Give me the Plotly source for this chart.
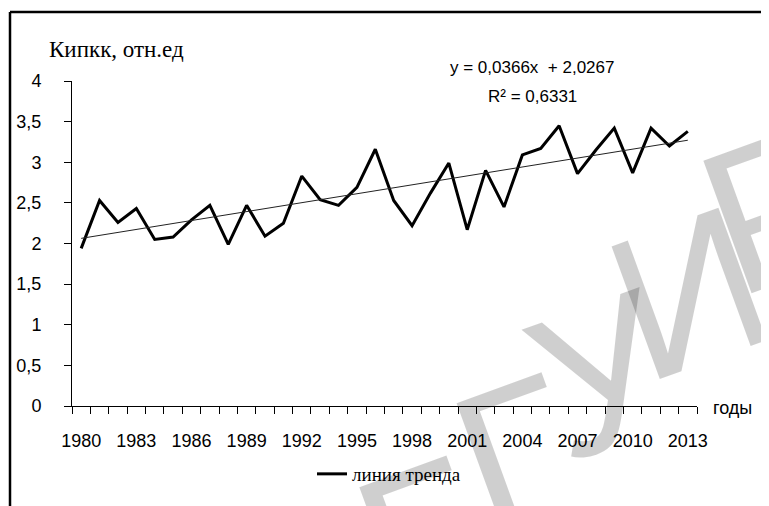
import plotly.graph_objects as go

years = list(range(1980, 2014))
values = [1.94, 2.53, 2.26, 2.43, 2.05, 2.08, 2.29, 2.47, 1.99, 2.47,
          2.09, 2.25, 2.83, 2.54, 2.47, 2.69, 3.16, 2.53, 2.22, 2.62,
          2.99, 2.17, 2.90, 2.45, 3.09, 3.17, 3.45, 2.86, 3.15, 3.42,
          2.87, 3.42, 3.20, 3.38]
trend_slope = 0.0366
trend_intercept = 2.0267
trend_eq = "y = 0,0366x  + 2,0267"
trend_r2 = "R² = 0,6331"
label_years = list(range(1980, 2014, 3))
y_ticks = [0, 0.5, 1, 1.5, 2, 2.5, 3, 3.5, 4]
y_title = "Кипкк, отн.ед"
x_title = "годы"
series_name = "линия тренда"
watermark_letters = ["Б", "Г", "У", "И", "Р"]

trend_vals = [trend_slope * (i + 1) + trend_intercept for i in range(len(years))]

SANS = "Liberation Sans, Arial, sans-serif"
SERIF = "Liberation Serif, Times New Roman, serif"

# page body has an 8px offset; plot area should sit at x 72..697, y 81..406
OFF = 8
L, T, W, H = 72 - OFF, 81 - OFF, 625, 325


def px(x):
    return (x - 72) / W


def py(y):
    return (406 - y) / H


fig = go.Figure()
fig.add_trace(go.Scatter(x=years, y=values, mode="lines", name=series_name,
                         line=dict(color="black", width=3), showlegend=True))
fig.add_trace(go.Scatter(x=years, y=trend_vals, mode="lines", name="trend",
                         line=dict(color="#222222", width=1), showlegend=False))

annotations = []
wm_pos = [(430, 535), (516, 455), (602, 374), (688, 292), (775, 208)]
for ch, (wx, wy) in zip(watermark_letters, wm_pos):
    annotations.append(dict(text=ch, xref="paper", yref="paper", x=px(wx), y=py(wy),
                            showarrow=False, textangle=-20, xanchor="center", yanchor="middle",
                            font=dict(family=SANS, size=205, color="rgba(0,0,0,0.19)")))
annotations += [
    dict(text=y_title, xref="paper", yref="paper", x=px(47), y=py(50),
         showarrow=False, xanchor="left", yanchor="middle",
         font=dict(family=SERIF, size=23, color="black")),
    dict(text=trend_eq, xref="paper", yref="paper", x=px(532), y=py(67),
         showarrow=False, xanchor="center", yanchor="middle",
         font=dict(family=SANS, size=17, color="black")),
    dict(text=trend_r2, xref="paper", yref="paper", x=px(532), y=py(97),
         showarrow=False, xanchor="center", yanchor="middle",
         font=dict(family=SANS, size=17, color="black")),
    dict(text=x_title, xref="paper", yref="paper", x=px(711), y=py(408),
         showarrow=False, xanchor="left", yanchor="middle",
         font=dict(family=SANS, size=18, color="black")),
]

fig.update_layout(
    width=769, height=506,
    margin=dict(l=L, r=769 - L - W, t=T, b=506 - T - H, autoexpand=False),
    paper_bgcolor="white", plot_bgcolor="rgba(0,0,0,0)",
    separators=", ",
    showlegend=True,
    legend=dict(orientation="h", x=px(312), xanchor="left", y=py(474), yanchor="middle",
                font=dict(family=SERIF, size=19, color="black"),
                itemwidth=30, bgcolor="rgba(0,0,0,0)"),
    xaxis=dict(range=[1979.5, 2013.5], tickmode="array", tickvals=label_years,
               ticktext=[str(y) for y in label_years],
               ticks="", showgrid=False, zeroline=False,
               showline=True, linecolor="black", linewidth=1,
               ticklabelstandoff=18,
               tickfont=dict(family=SANS, size=18, color="black")),
    yaxis=dict(range=[0, 4], tickmode="array", tickvals=y_ticks,
               ticks="outside", ticklen=7, tickcolor="black", tickwidth=1,
               showgrid=False, zeroline=False,
               showline=True, linecolor="black", linewidth=1,
               ticklabelstandoff=19,
               tickfont=dict(family=SANS, size=18, color="black")),
    annotations=annotations,
    shapes=[
        dict(type="line", xref="paper", yref="paper", x0=px(10), x1=px(790),
             y0=py(12), y1=py(12), line=dict(color="black", width=2.5)),
        dict(type="line", xref="paper", yref="paper", x0=px(10), x1=px(10),
             y0=py(12), y1=py(530), line=dict(color="black", width=2.5)),
    ],
)
fig.update_xaxes(minor=dict(tickmode="linear", tick0=1979.5, dtick=1, ticks="outside",
                            ticklen=7, tickcolor="black", tickwidth=1, showgrid=False))

fig.write_html("out.html")
